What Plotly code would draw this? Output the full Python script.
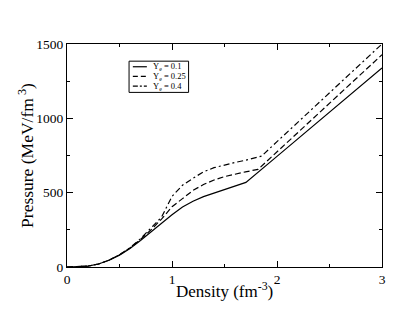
import plotly.graph_objects as go

x_01 = [0, 0.1, 0.2, 0.3, 0.4, 0.5, 0.6, 0.7, 0.8, 0.9, 1.0, 1.1, 1.2, 1.3, 1.4, 1.5, 1.6, 1.704, 2.0, 2.5, 3.0]
p_01 = [0, 1, 6, 20, 45, 80, 124, 178, 238, 298, 352, 403, 442, 473, 498, 520, 543, 569, 744, 1041, 1338]

x_025 = [0, 0.1, 0.2, 0.3, 0.4, 0.5, 0.6, 0.7, 0.8, 0.9, 1.0, 1.1, 1.2, 1.3, 1.4, 1.5, 1.6, 1.7, 1.82, 2.0, 2.5, 3.0]
p_025 = [0, 1, 6, 20, 46, 82, 128, 185, 250, 322, 405, 460, 515, 555, 585, 608, 625, 640, 657, 775, 1101, 1428]

x_04 = [0, 0.1, 0.2, 0.3, 0.4, 0.5, 0.6, 0.7, 0.8, 0.9, 1.0, 1.1, 1.2, 1.3, 1.4, 1.5, 1.6, 1.7, 1.853, 2.0, 2.5, 3.0]
p_04 = [0, 1, 6, 20, 46, 83, 130, 190, 262, 335, 475, 550, 597, 640, 668, 688, 703, 718, 746, 843, 1172, 1500]

labels = ["Y<sub>e</sub> = 0.1", "Y<sub>e</sub> = 0.25", "Y<sub>e</sub> = 0.4"]
dashes = ["solid", "6px,3px", "6px,3px,2px,3px"]
x_title = "Density (fm<sup>-3</sup>)"
y_title = "Pressure (MeV/fm<sup> 3</sup>)"

font = "Liberation Serif"

fig = go.Figure()
for xs, ys, lab, d in zip([x_01, x_025, x_04], [p_01, p_025, p_04], labels, dashes):
    fig.add_trace(go.Scatter(x=xs, y=ys, mode="lines", name=lab, showlegend=False,
                             line=dict(color="black", width=1.2, dash=d)))

# custom compact legend (paper coordinates)
fig.add_shape(type="rect", xref="paper", yref="paper", x0=0.197, x1=0.386, y0=0.783, y1=0.923,
              line=dict(color="black", width=1), fillcolor="white", layer="above")
row_y = [0.898, 0.855, 0.811]
legend_dashes = ["solid", "5px,3px", "5px,2px,2px,2px"]
for ry, lab, d in zip(row_y, labels, legend_dashes):
    fig.add_shape(type="line", xref="paper", yref="paper", x0=0.209, x1=0.2535, y0=ry, y1=ry,
                  line=dict(color="black", width=1.2, dash=d), layer="above")
    fig.add_annotation(xref="paper", yref="paper", x=0.266, y=ry, xanchor="left", yanchor="middle",
                       text=lab, showarrow=False, font=dict(family=font, size=8.5, color="black"))

# axis titles placed as annotations (tight to tick labels as in the reference)
fig.add_annotation(xref="paper", yref="paper", x=0.5, y=-0.104, xanchor="center", yanchor="middle",
                   text=x_title, showarrow=False, font=dict(family=font, size=17, color="black"))
fig.add_annotation(xref="paper", yref="paper", x=-0.132, y=0.5, xanchor="center", yanchor="middle",
                   text=y_title, textangle=-90, showarrow=False, font=dict(family=font, size=17.5, color="black"))

axis_common = dict(
    showline=True, linecolor="black", linewidth=1.3, mirror="ticks",
    ticks="inside", ticklen=6, tickwidth=1, tickcolor="black",
    showgrid=False, zeroline=False, automargin=False,
    tickfont=dict(family=font, size=13.5, color="black"),
)
fig.update_xaxes(range=[0, 3], dtick=1, tick0=0,
                 minor=dict(dtick=0.5, ticks="inside", ticklen=3, tickcolor="black"),
                 **axis_common)
fig.update_yaxes(range=[0, 1500], dtick=500, tick0=0,
                 minor=dict(dtick=250, ticks="inside", ticklen=3, tickcolor="black"),
                 **axis_common)

# page body has an 8px default margin: size the figure to fit the 415x312 window
fig.update_layout(
    width=407, height=304,
    margin=dict(l=58.7, r=32.7, t=36.3, b=45.3),
    font=dict(family=font, color="black"),
    paper_bgcolor="white", plot_bgcolor="white",
    showlegend=False,
)
fig.write_html("out.html")
